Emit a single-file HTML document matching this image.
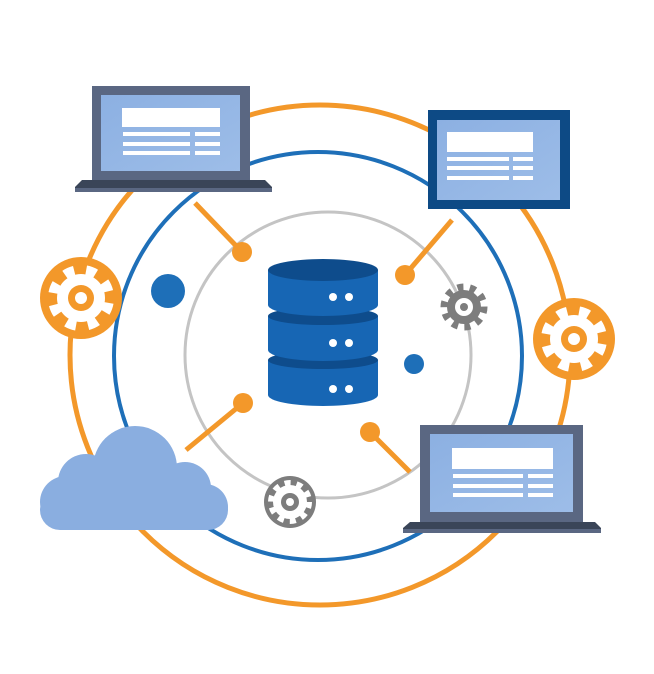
<!DOCTYPE html>
<html><head><meta charset="utf-8"><style>html,body{margin:0;padding:0;background:#fff}svg{display:block}</style></head>
<body>
<svg width="654" height="674" viewBox="0 0 654 674" xmlns="http://www.w3.org/2000/svg">
<defs>
<linearGradient id="scr" x1="0" y1="0" x2="1" y2="1"><stop offset="0" stop-color="#8cb0e2"/><stop offset="1" stop-color="#9dbde8"/></linearGradient>
</defs>
<!-- rings -->
<circle cx="320" cy="355" r="250" fill="none" stroke="#f3982a" stroke-width="5"/>
<circle cx="318" cy="356" r="204" fill="none" stroke="#1e6fb8" stroke-width="4"/>
<circle cx="328" cy="355" r="143" fill="none" stroke="#c4c4c4" stroke-width="3"/>

<!-- connectors -->
<g stroke="#f3982a" stroke-width="5" fill="#f3982a">
<line x1="195" y1="203" x2="242" y2="252"/><circle cx="242" cy="252" r="10" stroke="none"/>
<line x1="452" y1="220" x2="405" y2="275"/><circle cx="405" cy="275" r="10" stroke="none"/>
<line x1="186" y1="450" x2="243" y2="403"/><circle cx="243" cy="403" r="10" stroke="none"/>
<line x1="410" y1="472" x2="370" y2="432"/><circle cx="370" cy="432" r="10" stroke="none"/>
</g>

<!-- blue dots -->
<circle cx="168" cy="291" r="17" fill="#1e6fb8"/>
<circle cx="414" cy="364" r="10" fill="#1e6fb8"/>

<!-- database -->
<g>
<path d="M268 360 v35 a55 11 0 0 0 110 0 v-35 z" fill="#1766b4"/>
<ellipse cx="323" cy="360" rx="55" ry="9" fill="#0e4c8c"/>
<path d="M268 316 v34 a55 11 0 0 0 110 0 v-34 z" fill="#1766b4"/>
<ellipse cx="323" cy="316" rx="55" ry="9" fill="#0e4c8c"/>
<path d="M268 270 v35 a55 11 0 0 0 110 0 v-35 z" fill="#1766b4"/>
<ellipse cx="323" cy="270" rx="55" ry="11" fill="#0e4c8c"/>
<g fill="#fff">
<circle cx="333" cy="297" r="4"/><circle cx="349" cy="297" r="4"/>
<circle cx="333" cy="343" r="4"/><circle cx="349" cy="343" r="4"/>
<circle cx="333" cy="389" r="4"/><circle cx="349" cy="389" r="4"/>
</g>
</g>

<!-- orange gears -->
<g transform="translate(81,298)">
<circle r="41" fill="#f3982a"/>
<circle r="24" fill="#fff"/>
<circle r="28" fill="none" stroke="#fff" stroke-width="10" stroke-dasharray="10 12" transform="rotate(10)"/>
<circle r="13" fill="#f3982a"/><circle r="6" fill="#fff"/>
</g>
<g transform="translate(574,339)">
<circle r="41" fill="#f3982a"/>
<circle r="24" fill="#fff"/>
<circle r="28" fill="none" stroke="#fff" stroke-width="10" stroke-dasharray="10 12" transform="rotate(10)"/>
<circle r="13" fill="#f3982a"/><circle r="6" fill="#fff"/>
</g>

<!-- gray gears -->
<g transform="translate(464,307)">
<circle r="17" fill="#7d7d7d"/>
<circle r="20" fill="none" stroke="#7d7d7d" stroke-width="7" stroke-dasharray="6 6.5"/>
<circle r="9" fill="#fff"/><circle r="4" fill="#7d7d7d"/>
</g>
<g transform="translate(290,502)">
<circle r="26" fill="#7d7d7d"/>
<circle r="17" fill="#fff"/>
<circle r="19" fill="none" stroke="#fff" stroke-width="6" stroke-dasharray="6 6"/>
<circle r="9" fill="#7d7d7d"/><circle r="4" fill="#fff"/>
</g>

<!-- cloud -->
<g fill="#8aaee0">
<circle cx="135" cy="468" r="42"/>
<circle cx="86" cy="482" r="28"/>
<circle cx="185" cy="488" r="26"/>
<circle cx="66" cy="502" r="26"/>
<circle cx="205" cy="507" r="23"/>
<rect x="40" y="490" width="188" height="40" rx="20"/>
</g>

<!-- top-left laptop -->
<rect x="92" y="86" width="158" height="96" fill="#5a6782"/>
<rect x="101" y="95" width="139" height="76" fill="url(#scr)"/>
<rect x="122" y="108" width="98" height="19" fill="#fff"/>
<g fill="#fff"><rect x="123" y="132" width="67" height="4"/><rect x="195" y="132" width="25" height="4"/>
<rect x="123" y="142" width="67" height="4"/><rect x="195" y="142" width="25" height="4"/>
<rect x="123" y="151" width="67" height="4"/><rect x="195" y="151" width="25" height="4"/></g>
<path d="M82 180 H265 L272 187 V192 H75 V187 Z" fill="#3a4558"/>
<rect x="75" y="188" width="197" height="4" fill="#5a6782"/>

<!-- top-right monitor -->
<rect x="428" y="110" width="142" height="99" fill="#0d4a85"/>
<rect x="437" y="120" width="123" height="80" fill="url(#scr)"/>
<rect x="447" y="132" width="86" height="20" fill="#fff"/>
<g fill="#fff"><rect x="447" y="157" width="62" height="4"/><rect x="513" y="157" width="20" height="4"/>
<rect x="447" y="166" width="62" height="4"/><rect x="513" y="166" width="20" height="4"/>
<rect x="447" y="176" width="62" height="4"/><rect x="513" y="176" width="20" height="4"/></g>

<!-- bottom-right laptop -->
<rect x="420" y="425" width="163" height="98" fill="#5a6782"/>
<rect x="430" y="434" width="143" height="78" fill="url(#scr)"/>
<rect x="452" y="448" width="101" height="21" fill="#fff"/>
<g fill="#fff"><rect x="453" y="474" width="70" height="4"/><rect x="528" y="474" width="25" height="4"/>
<rect x="453" y="484" width="70" height="4"/><rect x="528" y="484" width="25" height="4"/>
<rect x="453" y="493" width="70" height="4"/><rect x="528" y="493" width="25" height="4"/></g>
<path d="M410 522 H595 L601 528 V533 H403 V528 Z" fill="#3a4558"/>
<rect x="403" y="529" width="198" height="4" fill="#5a6782"/>
</svg>
</body></html>
